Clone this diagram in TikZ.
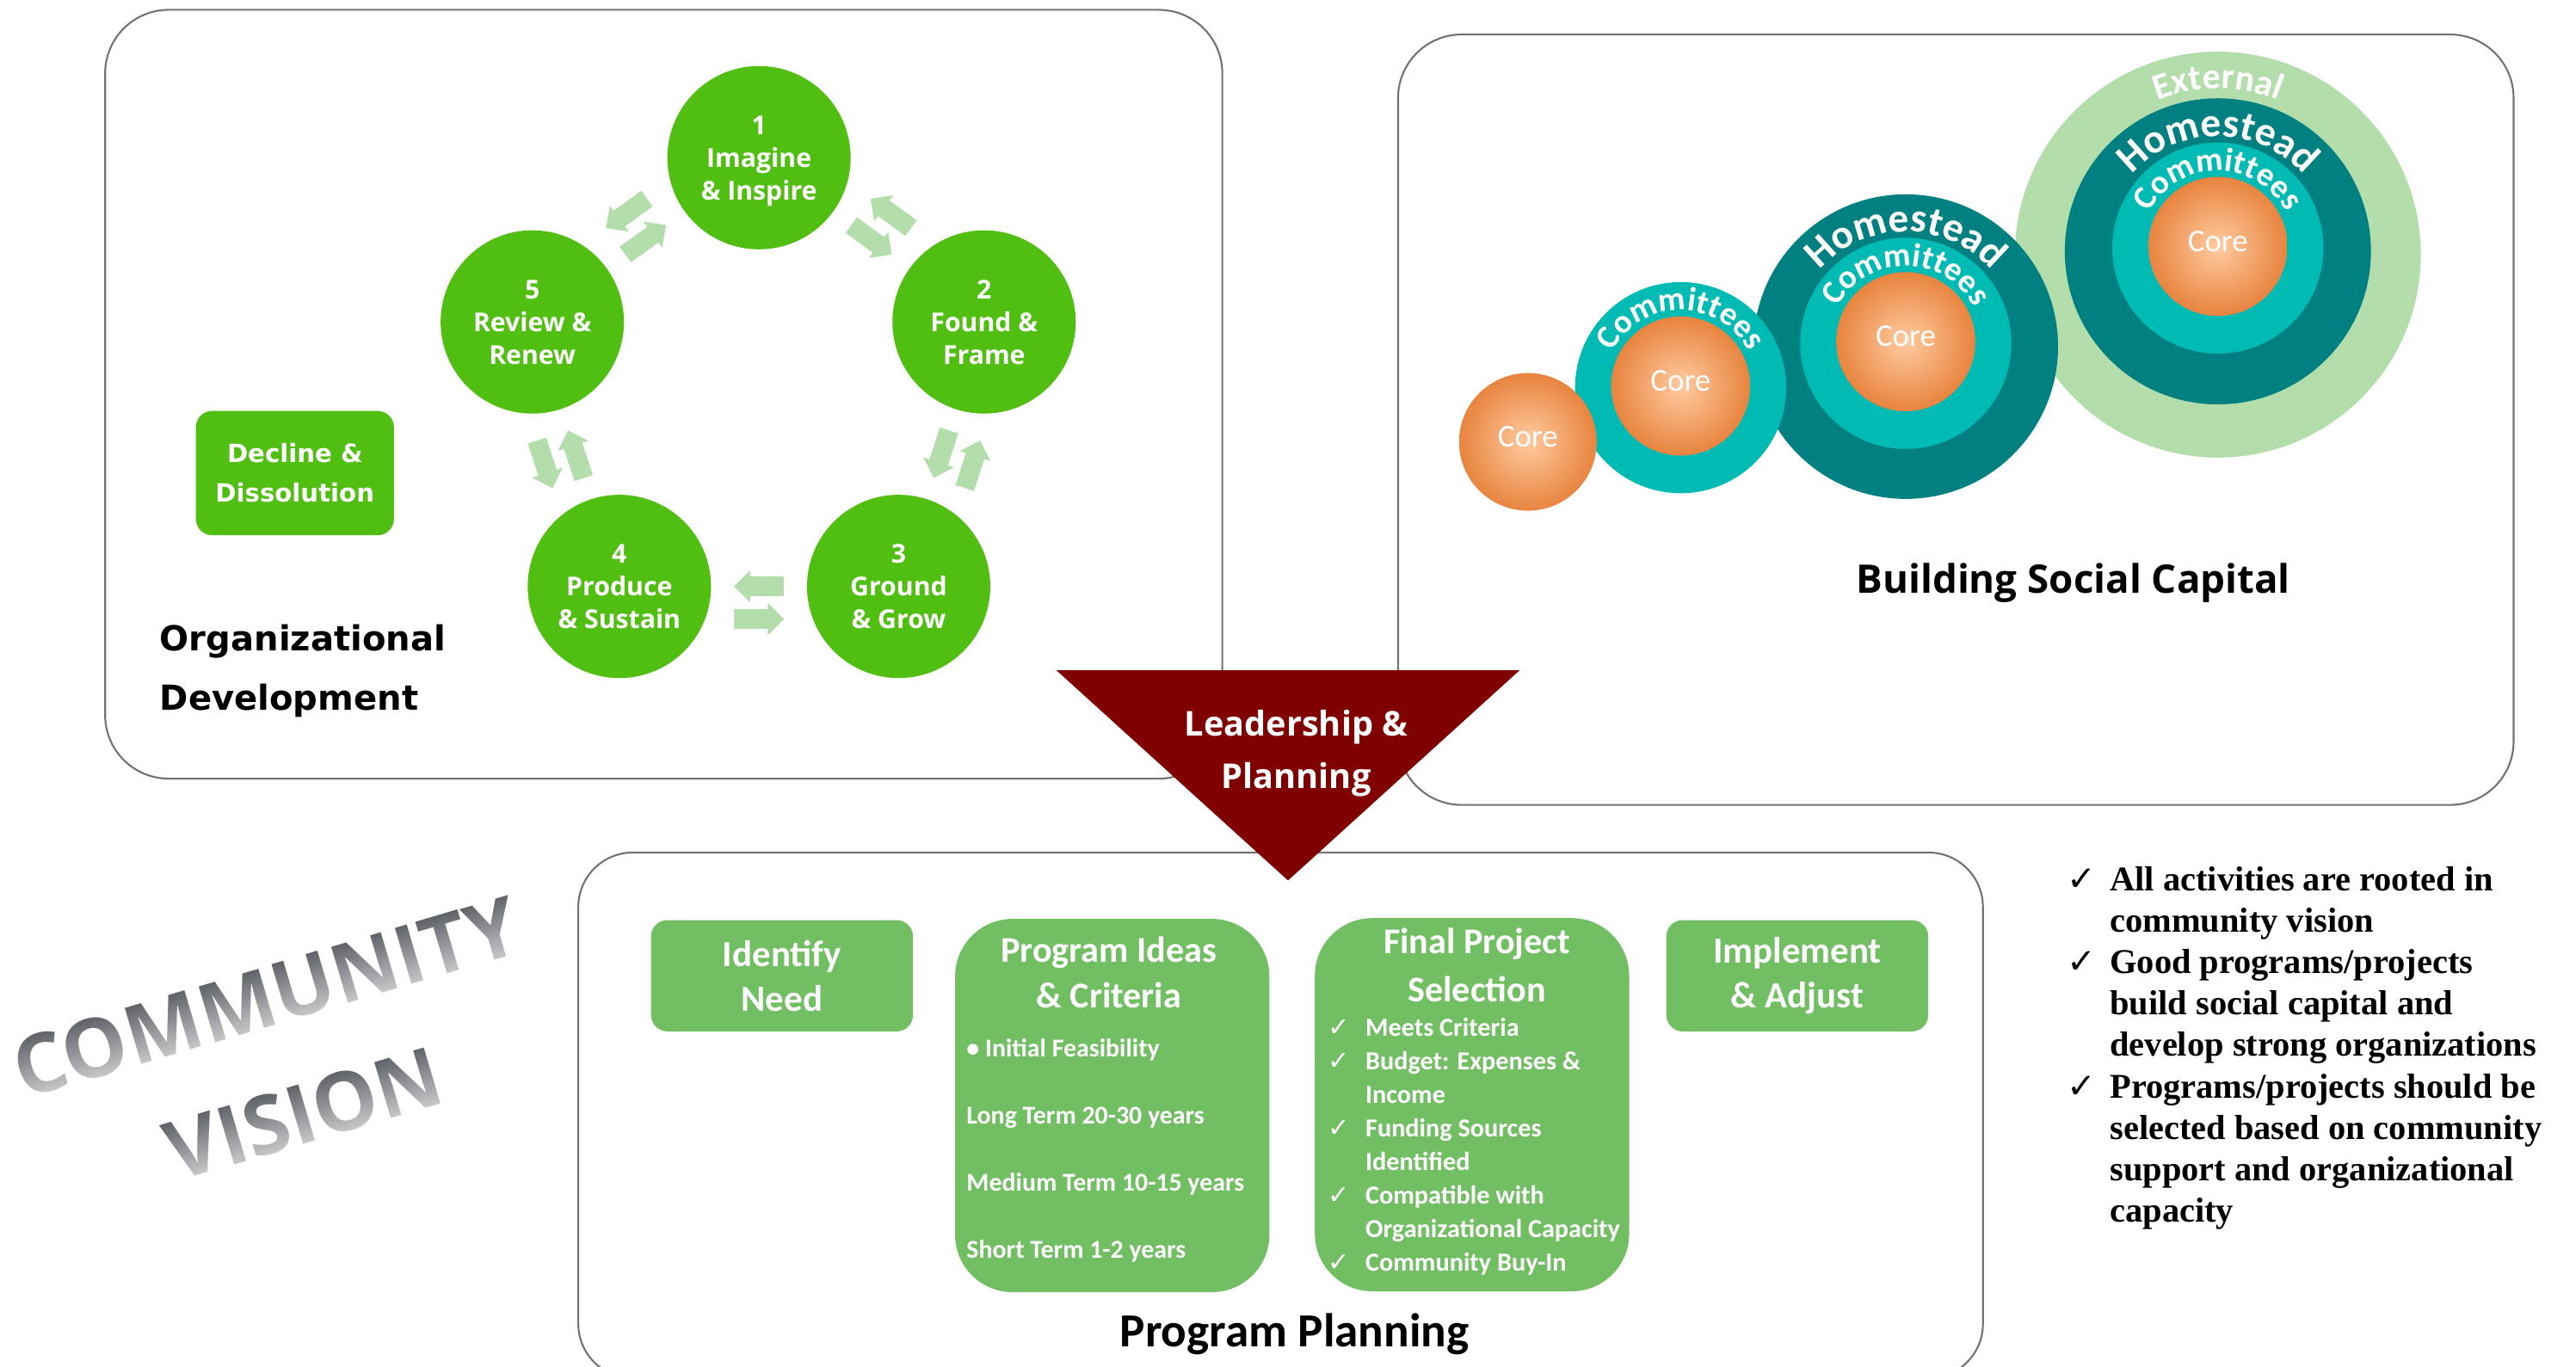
\documentclass[tikz,border=0pt]{standalone}
\usepackage{fontspec}
\usepackage{tikz}
\usetikzlibrary{arrows.meta,calc,decorations.text,fadings}
\newfontfamily\opensans{Open Sans}
\newfontfamily\widesans{DejaVu Sans}
\newfontfamily\narrowsans{Carlito}
\newfontfamily\notesserif{Liberation Serif}
\definecolor{stagegreen}{HTML}{50BF12}
\definecolor{flowgreen}{HTML}{B3DDAB}
\definecolor{boxgreen}{HTML}{72BF63}
\definecolor{leadred}{HTML}{800000}
\definecolor{panelgray}{HTML}{767171}
\definecolor{coreIn}{HTML}{FFCBA0}
\definecolor{coreOut}{HTML}{E8843F}
\definecolor{cmtteal}{HTML}{00BBB4}
\definecolor{hometeal}{HTML}{008080}
\definecolor{extgreen}{HTML}{B3DDAB}
\definecolor{visiongray}{HTML}{5E6166}
\tikzfading[name=fadedown, top color=transparent!100, bottom color=transparent!0]
\newcommand{\chkmark}[1]{\makebox[#1][l]{\widesans\mdseries ✓}}
\newcommand{\chkgap}[1]{\hspace*{#1}}
\tikzstyle{panel}=[
        draw=panelgray,
        line width=0.6pt,
        rounded corners=21pt
]
\tikzstyle{stage}=[
        circle, fill=stagegreen, minimum size=60.6pt, inner sep=0pt,
        text=white, align=center, text depth=0pt,
        font=\opensans\bfseries\fontsize{8.6}{10.8}\selectfont
]
\tikzstyle{flow}=[
        draw=flowgreen,
        line width=6.4pt,
        -{Triangle[width=10.3pt,length=5.4pt]}
]
\tikzstyle{declinebox}=[
        fill=stagegreen, rounded corners=5.4pt,
        minimum width=65.5pt, minimum height=41.1pt, inner sep=0pt,
        text=white, align=center,
        font=\widesans\bfseries\fontsize{8.3}{13}\selectfont
]
\tikzstyle{heading}=[
        text=black, inner sep=0pt
]
\tikzstyle{ring}=[
        circle, inner sep=0pt
]
\tikzstyle{core}=[
        ring, inner color=coreIn, outer color=coreOut, text=white, text depth=3.5pt,
        font=\narrowsans\fontsize{10.5}{10.5}\selectfont
]
\tikzstyle{stepbox}=[
        fill=boxgreen, rounded corners=5.4pt,
        minimum width=86.6pt, minimum height=36.8pt, inner sep=0pt,
        text=white, align=center,
        font=\narrowsans\bfseries\fontsize{12.2}{14.8}\selectfont
]
\tikzstyle{tallbox}=[
        fill=boxgreen, rounded corners=19pt,
        minimum width=103.9pt, minimum height=123.4pt, inner sep=0pt
]
\tikzstyle{boxtitle}=[
        text=white, align=center, inner sep=0pt
]
\tikzstyle{boxitems}=[
        text=white, align=left, anchor=west, inner sep=0pt
]
\tikzstyle{vision}=[
        text=visiongray, inner sep=0pt,
        font=\opensans\bfseries\fontsize{27}{27}\selectfont
]
\tikzstyle{visionshade}=[
        fill=white, fill opacity=0.68, path fading=fadedown
]

\begin{document}
\begin{tikzpicture}[x=0.019094cm,y=0.019094cm]
                        \useasboundingbox (0,0) rectangle (1568,832);

                        \draw[panel] (64,826) rectangle (744,358);
                        \draw[panel] (851,811) rectangle (1530,342);
                        \draw[panel, rounded corners=18pt] (352,313) rectangle (1207,-7);

                        \node[stage] (s1) at (462,736) {1\\Imagine\\\& Inspire};
                        \node[stage] (s2) at (599,636) {2\\Found \&\\Frame};
                        \node[stage] (s3) at (547,475) {3\\Ground\\\& Grow};
                        \node[stage] (s4) at (377,475) {4\\Produce\\\& Sustain};
                        \node[stage] (s5) at (324,636) {5\\Review \&\\Renew};

                        \foreach \p/\q in {s1/s2,s2/s3,s3/s4,s4/s5,s5/s1} {
                            \draw[flow] ($(\p)!0.41!(\q)$) -- ($(\p)!0.59!(\q)$);
                            \draw[flow] ($(\p)!0.59!(\q)!10.8pt!90:(\q)$) -- ($(\p)!0.41!(\q)!10.8pt!90:(\q)$);
                        }

                        \node[declinebox] (decline) at (179.5,544) {Decline \&\\Dissolution};
                        \node[heading, anchor=west, align=left, font=\widesans\bfseries\fontsize{11.4}{19.8}\selectfont] (orgdev) at (97,423.5) {Organizational\\Development};

                        \node[ring, fill=extgreen, minimum size=134.2pt] (ext4) at (1350,677) {};
                        \node[ring, fill=hometeal, minimum size=101.2pt] (home4) at (1350,679) {};
                        \node[ring, fill=cmtteal, minimum size=69.8pt] (cmt4) at (1350,681) {};
                        \node[core, minimum size=46pt] (core4) at (1350,682) {Core};

                        \node[ring, fill=hometeal, minimum size=100.7pt] (home3) at (1160,621) {};
                        \node[ring, fill=cmtteal, minimum size=69.8pt] (cmt3) at (1160,623) {};
                        \node[core, minimum size=46pt] (core3) at (1160,624) {Core};

                        \node[ring, fill=cmtteal, minimum size=69.8pt] (cmt2) at (1023,596) {};
                        \node[core, minimum size=46pt] (core2) at (1023,597) {Core};

                        \node[core, minimum size=45.5pt] (core1) at (930,563) {Core};

                        \path[decorate, decoration={text along path, text align=center, text color=white,
                            text={|\narrowsans\bfseries\fontsize{12}{12}\selectfont|External}}]
                            ([shift={(120:101)}]ext4.center) arc[start angle=120, end angle=60, radius=101];
                        \path[decorate, decoration={text along path, text align=center, text color=white,
                            text={|\narrowsans\bfseries\fontsize{13.5}{13.5}\selectfont|Homestead}}]
                            ([shift={(160:70)}]home4.center) arc[start angle=160, end angle=20, radius=70];
                        \path[decorate, decoration={text along path, text align=center, text color=white,
                            text={|\narrowsans\bfseries\fontsize{11}{11}\selectfont|Committees}}]
                            ([shift={(170:47)}]cmt4.center) arc[start angle=170, end angle=10, radius=47];
                        \path[decorate, decoration={text along path, text align=center, text color=white,
                            text={|\narrowsans\bfseries\fontsize{13.5}{13.5}\selectfont|Homestead}}]
                            ([shift={(160:70)}]home3.center) arc[start angle=160, end angle=20, radius=70];
                        \path[decorate, decoration={text along path, text align=center, text color=white,
                            text={|\narrowsans\bfseries\fontsize{11}{11}\selectfont|Committees}}]
                            ([shift={(170:47)}]cmt3.center) arc[start angle=170, end angle=10, radius=47];
                        \path[decorate, decoration={text along path, text align=center, text color=white,
                            text={|\narrowsans\bfseries\fontsize{11}{11}\selectfont|Committees}}]
                            ([shift={(170:47)}]cmt2.center) arc[start angle=170, end angle=10, radius=47];

                        \node[heading, font=\opensans\bfseries\fontsize{13}{13}\selectfont] (social) at (1262,477) {Building Social Capital};

                        \node[stepbox] (need) at (476,238) {Identify\\Need};
                        \node[tallbox] (ideas) at (677,159) {};
                        \node[tallbox] (final) at (896,159.5) {};
                        \node[stepbox] (implement) at (1094,238) {Implement\\\& Adjust};

                        \node[boxtitle, font=\narrowsans\bfseries\fontsize{12}{15.2}\selectfont] (ideastitle) at (675,240) {Program Ideas\\\& Criteria};
                        \node[boxitems, font=\narrowsans\bfseries\fontsize{8.5}{22.2}\selectfont] (ideasitems) at (588,131.5) {• Initial Feasibility\\Long Term 20-30 years\\Medium Term 10-15 years\\Short Term 1-2 years};

                        \node[boxtitle, font=\narrowsans\bfseries\fontsize{12}{15.7}\selectfont] (finaltitle) at (899,244.5) {Final Project\\Selection};
                        \node[boxitems, font=\narrowsans\bfseries\fontsize{8.6}{11.1}\selectfont] (finalitems) at (808,134) {\chkmark{12.4pt}Meets Criteria\\\chkmark{12.4pt}Budget: Expenses \&\\\chkgap{12.4pt}Income\\\chkmark{12.4pt}Funding Sources\\\chkgap{12.4pt}Identified\\\chkmark{12.4pt}Compatible with\\\chkgap{12.4pt}Organizational Capacity\\\chkmark{12.4pt}Community Buy-In};

                        \node[heading, font=\narrowsans\bfseries\fontsize{15.7}{15.7}\selectfont] (planning) at (788,20) {Program Planning};

                        \node[heading, anchor=west, align=left, font=\notesserif\bfseries\fontsize{11.5}{13.7}\selectfont] (notes) at (1258,194) {\chkmark{14.1pt}All activities are rooted in\\\chkgap{14.1pt}community vision\\\chkmark{14.1pt}Good programs/projects\\\chkgap{14.1pt}build social capital and\\\chkgap{14.1pt}develop strong organizations\\\chkmark{14.1pt}Programs/projects should be\\\chkgap{14.1pt}selected based on community\\\chkgap{14.1pt}support and organizational\\\chkgap{14.1pt}capacity};

                        \begin{scope}[transform canvas={shift={(162,225)}, rotate=16.5}]
                            \node[vision] (community) at (0,0) {COMMUNITY};
                            \fill[visionshade] (-170,-19) rectangle (170,19);
                        \end{scope}
                        \begin{scope}[transform canvas={shift={(185,154)}, rotate=16.5}]
                            \node[vision] (vision) at (0,0) {VISION};
                            \fill[visionshade] (-100,-19) rectangle (100,19);
                        \end{scope}

                        \fill[leadred] (643,424) -- (925,424) -- (784,296) -- cycle;
                        \node[text=white, align=center, inner sep=0pt, font=\opensans\bfseries\fontsize{11.3}{17.3}\selectfont] (lead) at (789,373.5) {Leadership \&\\Planning};

                    \end{tikzpicture}
\end{document}
